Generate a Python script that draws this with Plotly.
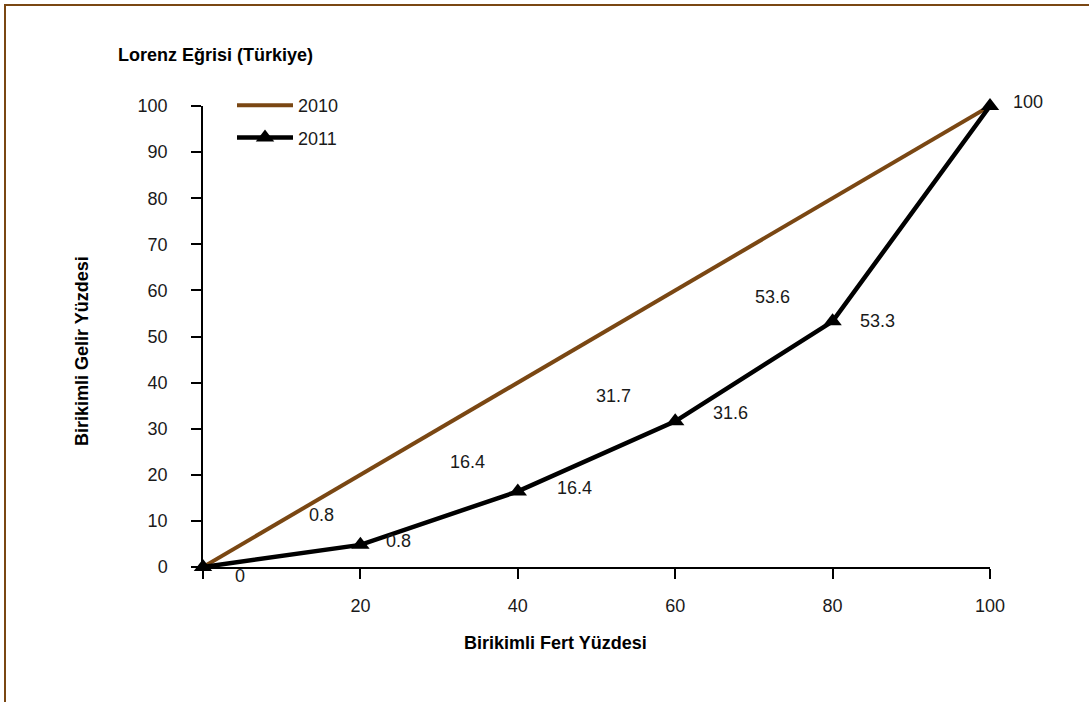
import plotly.graph_objects as go

# Cumulative share of population (x) and income (y), percent
fert_yuzdesi = [0, 20, 40, 60, 80, 100]
gelir_2010 = [0, 20, 40, 60, 80, 100]
gelir_2011 = [0, 4.8, 16.4, 31.6, 53.3, 100]

# Data label texts
etiket_2011 = ["0", "0.8", "16.4", "31.6", "53.3", "100"]
etiket_2010_kat = [20, 40, 60, 80]
etiket_2010 = [0.8, 16.4, 31.7, 53.6]

x_ticks = [0, 20, 40, 60, 80, 100]
y_ticks = [0, 10, 20, 30, 40, 50, 60, 70, 80, 90, 100]

BROWN = "#7a4713"
FONT = "Liberation Sans, Arial, sans-serif"
TXT = "#1a1a1a"

W, H = 1089, 702
L, R, T, B = 203, 99, 106, 135
PW, PH = W - L - R, H - T - B


def px_to_paper_x(px):
    return (px - L) / PW


def px_to_paper_y(py):
    return (H - B - py) / PH


fig = go.Figure()

fig.add_trace(go.Scatter(
    x=fert_yuzdesi, y=gelir_2010, name="2010", mode="lines",
    line=dict(color=BROWN, width=4), legendgroup="a", cliponaxis=False,
))
fig.add_trace(go.Scatter(
    x=fert_yuzdesi, y=gelir_2011, name="2011", mode="lines+markers",
    line=dict(color="black", width=4.5),
    marker=dict(symbol="triangle-up", size=16, color="black"),
    legendgroup="b", cliponaxis=False,
))

annotations = []

# Labels to the right of the 2011 points
shifts_2011 = [(37, -9), (38, 4), (57, 3), (55, 8), (45, 0), (38, 4)]
for xv, yv, txt, (dx, dy) in zip(fert_yuzdesi, gelir_2011, etiket_2011, shifts_2011):
    annotations.append(dict(
        x=xv, y=yv, xref="x", yref="y", text=txt, showarrow=False,
        xshift=dx, yshift=dy, font=dict(family=FONT, size=18, color=TXT),
    ))

# 2010 labels, placed up-left of their category/value
shifts_2010 = [(-39, 48), (-50, 29), (-62, 25), (-60, 23)]
for xv, yv, (dx, dy) in zip(etiket_2010_kat, etiket_2010, shifts_2010):
    annotations.append(dict(
        x=xv, y=yv, xref="x", yref="y", text=f"{yv:g}", showarrow=False,
        xshift=dx, yshift=dy, font=dict(family=FONT, size=18, color=TXT),
    ))

# Title and axis titles
annotations.append(dict(
    x=px_to_paper_x(116), y=px_to_paper_y(55), xref="paper", yref="paper",
    xanchor="left", yanchor="middle", showarrow=False,
    text="<b>Lorenz Eğrisi (Türkiye)</b>",
    font=dict(family=FONT, size=18, color="black"),
))
annotations.append(dict(
    x=px_to_paper_x(70), y=px_to_paper_y(351), xref="paper", yref="paper",
    textangle=-90, showarrow=False, text="<b>Birikimli Gelir Yüzdesi</b>",
    font=dict(family=FONT, size=18, color="black"),
))
annotations.append(dict(
    x=px_to_paper_x(555), y=px_to_paper_y(655), xref="paper", yref="paper",
    showarrow=False, text="<b>Birikimli Fert Yüzdesi</b>",
    font=dict(family=FONT, size=18, color="black"),
))

fig.update_layout(
    width=W, height=H,
    margin=dict(l=L, r=R, t=T, b=B, pad=0),
    paper_bgcolor="white", plot_bgcolor="white",
    showlegend=True,
    legend=dict(
        x=px_to_paper_x(232), y=px_to_paper_y(87), xanchor="left", yanchor="top",
        font=dict(family=FONT, size=18, color=TXT),
        bgcolor="rgba(0,0,0,0)", tracegroupgap=6, itemwidth=56,
    ),
    annotations=annotations,
    shapes=[dict(
        type="rect", xref="paper", yref="paper",
        x0=px_to_paper_x(5), x1=px_to_paper_x(1100),
        y0=px_to_paper_y(720), y1=px_to_paper_y(5),
        line=dict(color=BROWN, width=2), fillcolor="rgba(0,0,0,0)",
    )],
    xaxis=dict(
        range=[0, 100], tickvals=x_ticks,
        ticktext=["" if v == 0 else str(v) for v in x_ticks],
        showgrid=False, zeroline=False, showline=True, linecolor="black", linewidth=1.5,
        ticks="outside", ticklen=10, tickcolor="black", tickwidth=1.5,
        ticklabelstandoff=12,
        tickfont=dict(family=FONT, size=18, color=TXT),
    ),
    yaxis=dict(
        range=[0, 100], tickvals=y_ticks,
        showgrid=False, zeroline=False, showline=True, linecolor="black", linewidth=1.5,
        ticks="outside", ticklen=10, tickcolor="black", tickwidth=1.5,
        ticklabelstandoff=20,
        tickfont=dict(family=FONT, size=18, color=TXT),
    ),
)

fig.write_html("out.html")
